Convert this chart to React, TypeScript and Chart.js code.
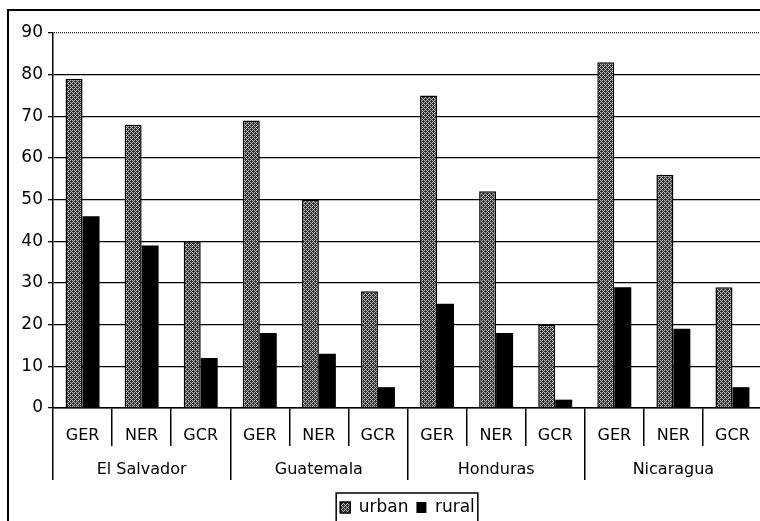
import React, { useEffect, useRef } from 'react';
import { Chart, registerables } from 'chart.js';

Chart.register(...registerables);

const categories = ['GER', 'NER', 'GCR', 'GER', 'NER', 'GCR', 'GER', 'NER', 'GCR', 'GER', 'NER', 'GCR'];
const countries = ['El Salvador', 'Guatemala', 'Honduras', 'Nicaragua'];
const urbanValues = [79, 68, 40, 69, 50, 28, 75, 52, 20, 83, 56, 29];
const ruralValues = [46, 39, 12, 18, 13, 5, 25, 18, 2, 29, 19, 5];
const seriesNames = ['urban', 'rural'];
const yMin = 0;
const yMax = 90;
const yStep = 10;

const FONT = '"DejaVu Sans", "Liberation Sans", Arial, sans-serif';

const BAYER = [
  [0, 8, 2, 10],
  [12, 4, 14, 6],
  [3, 11, 1, 9],
  [15, 7, 13, 5],
];

function makeUrbanPattern(ctx: CanvasRenderingContext2D): CanvasPattern | string {
  const c = document.createElement('canvas');
  c.width = 4;
  c.height = 4;
  const p = c.getContext('2d');
  if (!p) return '#666';
  for (let y = 0; y < 4; y++) {
    for (let x = 0; x < 4; x++) {
      p.fillStyle = BAYER[y][x] < 6 ? '#c4c4c4' : '#2c2c2c';
      p.fillRect(x, y, 1, 1);
    }
  }
  return ctx.createPattern(c, 'repeat') || '#666';
}

function makeDotPattern(ctx: CanvasRenderingContext2D): CanvasPattern | string {
  const c = document.createElement('canvas');
  c.width = 2;
  c.height = 2;
  const p = c.getContext('2d');
  if (!p) return '#444';
  p.fillStyle = '#222';
  p.fillRect(0, 0, 1, 2);
  return ctx.createPattern(c, 'repeat') || '#444';
}

export default function App() {
  const ref = useRef<HTMLCanvasElement>(null);

  useEffect(() => {
    const canvas = ref.current;
    if (!canvas) return;
    const ctx = canvas.getContext('2d');
    if (!ctx) return;
    const urbanFill = makeUrbanPattern(ctx);
    const dotted = makeDotPattern(ctx);

    const legendBox = {
      id: 'legendBox',
      afterDraw(chart: any) {
        const lg = chart.legend;
        if (!lg || !lg.legendHitBoxes || !lg.legendHitBoxes.length) return;
        const hb = lg.legendHitBoxes;
        const first = hb[0];
        const last = hb[hb.length - 1];
        const c = chart.ctx;
        c.save();
        c.strokeStyle = '#000';
        c.lineWidth = 1.5;
        const left = first.left - 4;
        const top = first.top - 6;
        const right = last.left + last.width + 3;
        c.strokeRect(left, top, right - left, 80);
        c.restore();
      },
    };

    const chart = new Chart(canvas, {
      type: 'bar',
      data: {
        labels: categories,
        datasets: [
          {
            label: seriesNames[0],
            data: urbanValues,
            backgroundColor: urbanFill as any,
            borderColor: '#000',
            borderWidth: 1.5,
            categoryPercentage: 0.575,
            barPercentage: 1.0,
          },
          {
            label: seriesNames[1],
            data: ruralValues,
            backgroundColor: '#000',
            borderColor: '#000',
            borderWidth: 0,
            categoryPercentage: 0.575,
            barPercentage: 1.0,
          },
        ],
      },
      options: {
        responsive: false,
        animation: false,
        color: '#000',
        layout: { padding: { top: 33, right: 8, bottom: 0, left: 0 } },
        plugins: {
          legend: {
            display: true,
            position: 'bottom',
            fullSize: false,
            labels: {
              color: '#000',
              font: { family: FONT, size: 17 },
              boxWidth: 10,
              boxHeight: 11,
              padding: 8,
            },
          },
          tooltip: { enabled: false },
        },
        scales: {
          x: {
            type: 'category',
            position: 'bottom',
            weight: 0,
            offset: true,
            grid: {
              display: true,
              offset: true,
              drawOnChartArea: false,
              drawTicks: true,
              tickLength: 38,
              color: '#000',
              lineWidth: 1.5,
            },
            border: { display: true, color: '#000', width: 1.5 },
            ticks: {
              color: '#000',
              font: { family: FONT, size: 16 },
              padding: -20,
              autoSkip: false,
              maxRotation: 0,
              minRotation: 0,
            },
            afterFit: (scale: any) => {
              scale.height = 38;
            },
          },
          x2: {
            type: 'category',
            labels: countries,
            position: 'bottom',
            weight: 1,
            offset: true,
            grid: {
              display: true,
              offset: true,
              drawOnChartArea: false,
              drawTicks: true,
              tickLength: 34,
              color: '#000',
              lineWidth: 1.5,
            },
            border: { display: false },
            ticks: {
              color: '#000',
              font: { family: FONT, size: 16 },
              padding: -20,
              autoSkip: false,
              maxRotation: 0,
              minRotation: 0,
            },
            afterFit: (scale: any) => {
              scale.height = 45;
            },
          },
          y: {
            min: yMin,
            max: yMax,
            ticks: {
              stepSize: yStep,
              color: '#000',
              font: { family: FONT, size: 17 },
              padding: 5,
            },
            grid: {
              color: (c: any) => (c.tick && c.tick.value === yMax ? dotted : '#000') as any,
              tickColor: '#000',
              lineWidth: 1.3,
              tickLength: 5,
            },
            border: { display: true, color: '#000', width: 1.5 },
            afterFit: (scale: any) => {
              scale.width = 53;
            },
          },
        },
      } as any,
      plugins: [legendBox],
    });

    return () => chart.destroy();
  }, []);

  return (
    <div
      style={{
        position: 'fixed',
        left: 0,
        top: 0,
        width: 760,
        height: 521,
        overflow: 'hidden',
        background: '#fff',
      }}
    >
      <div
        style={{
          position: 'absolute',
          left: 7,
          top: 9,
          width: 820,
          height: 620,
          borderLeft: '2px solid #000',
          borderTop: '2px solid #000',
        }}
      />
      <canvas
        ref={ref}
        width={770}
        height={526}
        style={{ position: 'absolute', left: 0, top: 0, width: 770, height: 526 }}
      />
    </div>
  );
}
